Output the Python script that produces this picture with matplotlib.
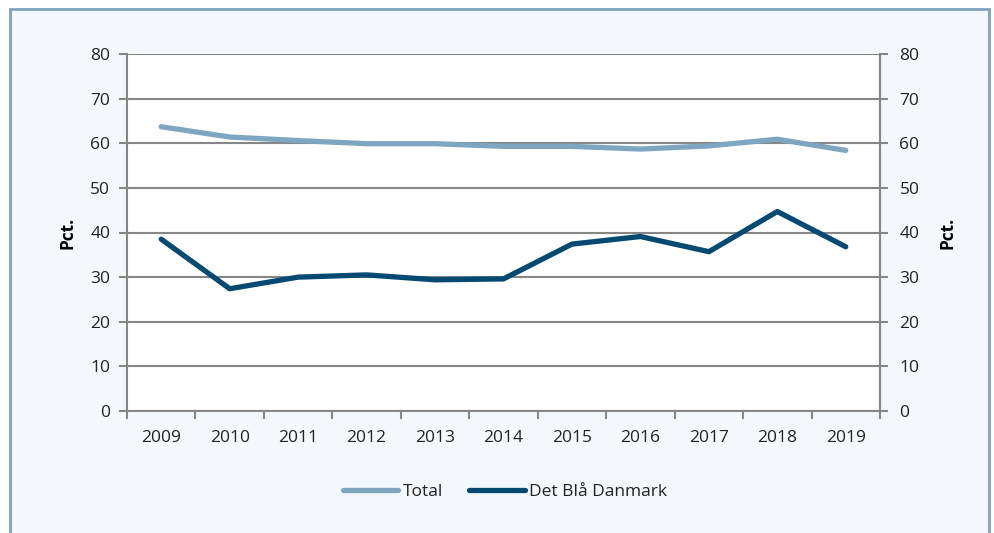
import numpy as np
import matplotlib.pyplot as plt
from matplotlib.patches import Rectangle

years = ['2009', '2010', '2011', '2012', '2013', '2014', '2015', '2016', '2017', '2018', '2019']
total = [63.7, 61.4, 60.6, 59.9, 59.9, 59.3, 59.3, 58.7, 59.4, 60.9, 58.4]
det_blaa = [38.5, 27.4, 30.0, 30.5, 29.4, 29.6, 37.4, 39.1, 35.7, 44.7, 36.8]
yticks = [0, 10, 20, 30, 40, 50, 60, 70, 80]

plt.rcParams['font.family'] = ['Open Sans', 'DejaVu Sans']
grid_col = '#868686'
c_total = '#7fa6c0'
c_blaa = '#034a73'
fs = 12.5

fig = plt.figure(figsize=(9.94, 5.33), dpi=100)
fig.patch.set_facecolor('white')
# frame round the chart
fig.add_artist(Rectangle((10 / 994, -0.01), 979 / 994, 1 - 9 / 533 + 0.01,
                         transform=fig.transFigure, facecolor='#f4f8fc',
                         edgecolor='#7fa3bd', linewidth=2, zorder=0))

ax = fig.add_axes([127 / 994, 1 - 411 / 533, 753 / 994, 357 / 533])
ax.set_facecolor('white')
x = np.arange(len(years))
ax.plot(x, total, color=c_total, lw=3.8, label='Total', solid_capstyle='round', zorder=3)
ax.plot(x, det_blaa, color=c_blaa, lw=3.8, label='Det Blå Danmark', solid_capstyle='round', zorder=3)

ax.set_xlim(-0.5, len(years) - 0.5)
ax.set_ylim(0, 80)
ax.set_yticks(yticks)
ax.yaxis.grid(True, color=grid_col, lw=1.5)
ax.set_axisbelow(True)
ax.spines['top'].set_visible(False)
for s in ['left', 'right', 'bottom']:
    ax.spines[s].set_color(grid_col)
    ax.spines[s].set_linewidth(1.5)

# category ticks sit between years
ax.set_xticks(np.arange(-0.5, len(years)), minor=False)
ax.set_xticklabels([])
ax.set_xticks(x, minor=True)
ax.set_xticklabels(years, minor=True)
ax.tick_params(axis='x', which='major', length=6, color=grid_col, width=1.5)
ax.tick_params(axis='x', which='minor', length=0, pad=14, labelsize=fs, colors='#222222')
ax.tick_params(axis='y', length=6, color=grid_col, width=1.5, pad=6, labelsize=fs, labelcolor='#222222')
ax.set_ylabel('Pct.', fontweight='bold', fontsize=fs, labelpad=10)

ax2 = ax.twinx()
ax2.set_ylim(0, 80)
ax2.set_yticks(yticks)
ax2.tick_params(axis='y', length=6, color=grid_col, width=1.5, pad=8, labelsize=fs, labelcolor='#222222')
for s in ['left', 'top', 'bottom']:
    ax2.spines[s].set_visible(False)
ax2.spines['right'].set_color(grid_col)
ax2.spines['right'].set_linewidth(1.5)
ax2.set_ylabel('Pct.', fontweight='bold', fontsize=fs, labelpad=14)

leg = fig.legend(loc='center', bbox_to_anchor=(505 / 994, 1 - 492 / 533), ncol=2,
                 frameon=False, fontsize=fs, handlelength=3.2, handletextpad=0.25,
                 columnspacing=1.5)
for t in leg.get_texts():
    t.set_color('#222222')

fig.savefig('out.png', dpi=100)
